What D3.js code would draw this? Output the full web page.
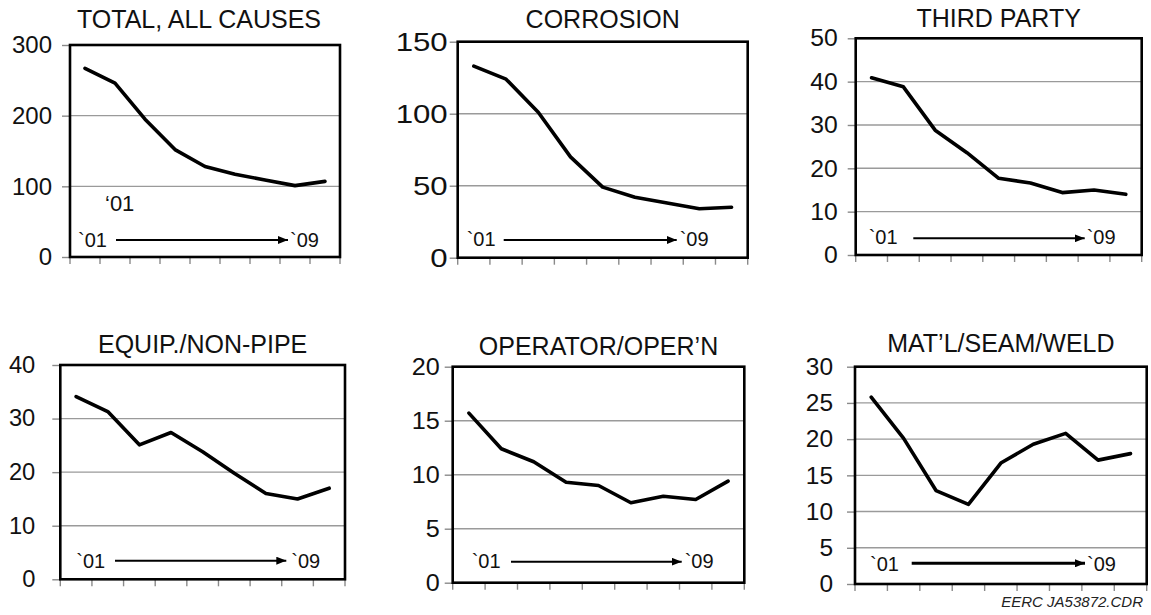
<!DOCTYPE html>
<html>
<head>
<meta charset="utf-8">
<script src="https://cdn.jsdelivr.net/npm/d3@7"></script>
<style>
  html, body { margin: 0; padding: 0; background: #fff; }
  svg { display: block; font-family: "Liberation Sans", Arial, sans-serif; }
</style>
</head>
<body>
<svg id="chart" width="1151" height="615"></svg>
<script>
// ---------- DATA ----------
const years = [2001, 2002, 2003, 2004, 2005, 2006, 2007, 2008, 2009];
const titles = ["TOTAL, ALL CAUSES", "CORROSION", "THIRD PARTY", "EQUIP./NON-PIPE", "OPERATOR/OPER\u2019N", "MAT\u2019L/SEAM/WELD"];
const totalAll   = [267, 246, 195, 152, 128, 117, 109, 101, 107];
const corrosion  = [133, 124, 101, 70, 49, 42, 38, 34, 35];
const thirdParty = [40.9, 38.8, 28.8, 23.6, 17.7, 16.6, 14.4, 15.0, 14.0];
const equipNonPipe = [34.1, 31.3, 25.1, 27.4, 23.8, 19.8, 16.0, 15.0, 17.0];
const operatorOpern = [15.7, 12.4, 11.2, 9.3, 9.0, 7.4, 8.0, 7.7, 9.4];
const matlSeamWeld = [25.8, 20.1, 12.9, 11.0, 16.7, 19.3, 20.8, 17.1, 18.0];
const yTicksTotal = [0, 100, 200, 300];
const yTicksCorrosion = [0, 50, 100, 150];
const yTicksThird = [0, 10, 20, 30, 40, 50];
const yTicksEquip = [0, 10, 20, 30, 40];
const yTicksOperator = [0, 5, 10, 15, 20];
const yTicksMatl = [0, 5, 10, 15, 20, 25, 30];
const startLabel = "`01";
const endLabel = "`09";
const extraLabel = "\u201801";
const footnote = "EERC JA53872.CDR";

const seriesList = [totalAll, corrosion, thirdParty, equipNonPipe, operatorOpern, matlSeamWeld];
const tickList = [yTicksTotal, yTicksCorrosion, yTicksThird, yTicksEquip, yTicksOperator, yTicksMatl];

// ---------- LAYOUT (positions only) ----------
const layout = [
  {l: 70,    r: 340,    t: 45,    b: 257,   titleX: 199, titleY: 28,  pad: 10, tfs: 24, tsx: 1,    a: {t01: 8,  s: 46, e: 218, t09: 220, ay: 17, ty: 10.5}},
  {l: 457.7, r: 747.7,  t: 41.7,  b: 257.7, titleX: null, titleY: 28, pad: 2,  tfs: 26, tsx: 1.2,  a: {t01: 9,  s: 46, e: 219, t09: 222, ay: 17.7, ty: 11.5}},
  {l: 855.7, r: 1141.7, t: 38.3,  b: 255,   titleX: null, titleY: 27, pad: 10, tfs: 24, tsx: 1.03, a: {t01: 13, s: 57.6, e: 229, t09: 231, ay: 16.7, ty: 11.5}},
  {l: 60.3,  r: 345,    t: 365,   b: 579.3, titleX: null, titleY: 353, pad: 17, tfs: 23, tsx: 1.03, a: {t01: 16, s: 54.7, e: 226, t09: 231, ay: 18.6, ty: 11}},
  {l: 452.7, r: 744.3,  t: 366.7, b: 582.7, titleX: null, titleY: 355, pad: 5,  tfs: 24, tsx: 1.05, a: {t01: 19, s: 58.3, e: 229, t09: 232, ay: 21, ty: 14.4}},
  {l: 855,   r: 1146.7, t: 366.7, b: 584,   titleX: null, titleY: 352, pad: 14, tfs: 24, tsx: 1.02, a: {t01: 15, s: 56.7, e: 230, t09: 232, ay: 20.7, ty: 13.3, thick: true}}
];

const svg = d3.select("#chart");

svg.append("defs").append("marker")
  .attr("id", "arrowhead")
  .attr("viewBox", "0 0 10 8")
  .attr("refX", 10).attr("refY", 4)
  .attr("markerWidth", 10).attr("markerHeight", 8)
  .attr("markerUnits", "userSpaceOnUse")
  .attr("orient", "auto")
  .append("path").attr("d", "M0,0 L10,4 L0,8 Z").attr("fill", "#000");

seriesList.forEach((vals, i) => {
  const L = layout[i];
  const ticks = tickList[i];
  const g = svg.append("g");

  const x = d3.scaleBand().domain(years).range([L.l, L.r]).paddingInner(0).paddingOuter(0);
  const y = d3.scaleLinear().domain([0, d3.max(ticks)]).range([L.b, L.t]);

  // gridlines
  g.append("g").selectAll("line")
    .data(ticks.filter(t => t > 0 && t < d3.max(ticks)))
    .join("line")
    .attr("x1", L.l).attr("x2", L.r)
    .attr("y1", d => y(d)).attr("y2", d => y(d))
    .attr("stroke", "#9a9a9a").attr("stroke-width", 1.4);

  // y axis
  const yAxis = g.append("g")
    .attr("transform", `translate(${L.l},0)`)
    .call(d3.axisLeft(y).tickValues(ticks).tickSize(8).tickPadding(L.pad).tickFormat(d3.format("d")));
  yAxis.select(".domain").remove();
  yAxis.selectAll(".tick line").attr("stroke", "#8a8a8a").attr("stroke-width", 1.4);
  yAxis.selectAll(".tick text")
    .attr("fill", "#111").style("font-size", L.tfs + "px")
    .attr("font-family", "'Liberation Sans', Arial, sans-serif")
    .each(function() {
      if (L.tsx !== 1) {
        const len = this.getComputedTextLength();
        d3.select(this).attr("textLength", len * L.tsx).attr("lengthAdjust", "spacingAndGlyphs");
      }
    });

  // x ticks at band boundaries
  const bounds = years.map(d => x(d)).concat([x.range()[1]]);
  g.append("g").selectAll("line")
    .data(bounds)
    .join("line")
    .attr("x1", d => d).attr("x2", d => d)
    .attr("y1", L.b).attr("y2", L.b + 7)
    .attr("stroke", "#8a8a8a").attr("stroke-width", 1.4);

  // frame
  g.append("rect")
    .attr("x", L.l).attr("y", L.t)
    .attr("width", L.r - L.l).attr("height", L.b - L.t)
    .attr("fill", "none").attr("stroke", "#000").attr("stroke-width", 2.6);

  // data line
  const line = d3.line()
    .x((d, k) => x(years[k]) + x.bandwidth() / 2)
    .y(d => y(d))
    .curve(d3.curveLinear);
  g.append("path")
    .datum(vals)
    .attr("d", line)
    .attr("fill", "none").attr("stroke", "#000")
    .attr("stroke-width", 3.6)
    .attr("stroke-linejoin", "round").attr("stroke-linecap", "round");

  // title
  g.append("text")
    .attr("x", L.titleX != null ? L.titleX : (L.l + L.r) / 2)
    .attr("y", L.titleY)
    .attr("text-anchor", "middle")
    .attr("fill", "#111")
    .style("font-size", "25px")
    .text(titles[i]);

  // time arrow annotation
  const A = L.a;
  g.append("text")
    .attr("x", L.l + A.t01).attr("y", L.b - A.ty)
    .attr("fill", "#111").style("font-size", "20px")
    .text(startLabel);
  g.append("line")
    .attr("x1", L.l + A.s).attr("x2", L.l + A.e)
    .attr("y1", L.b - A.ay).attr("y2", L.b - A.ay)
    .attr("stroke", "#000").attr("stroke-width", A.thick ? 3 : 2)
    .attr("marker-end", "url(#arrowhead)");
  g.append("text")
    .attr("x", L.l + A.t09).attr("y", L.b - A.ty)
    .attr("fill", "#111").style("font-size", "20px")
    .text(endLabel);

  if (i === 0) {
    g.append("text")
      .attr("x", L.l + 35).attr("y", 211)
      .attr("fill", "#111").style("font-size", "22px")
      .text(extraLabel);
  }
});

svg.append("text")
  .attr("x", 1143).attr("y", 607)
  .attr("text-anchor", "end")
  .attr("fill", "#222")
  .style("font-size", "15px").style("font-style", "italic")
  .text(footnote);
</script>
</body>
</html>
